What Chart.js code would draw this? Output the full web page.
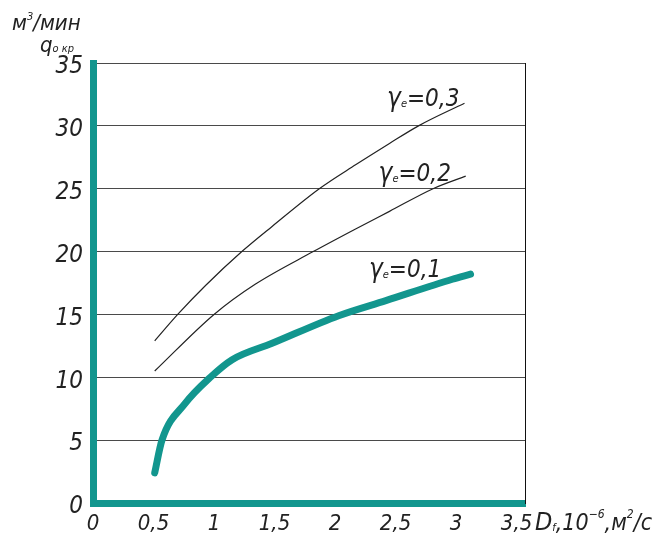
<!DOCTYPE html>
<html>
<head>
<meta charset="utf-8">
<script src="https://cdn.jsdelivr.net/npm/chart.js@4/dist/chart.umd.min.js"></script>
<style>
  html, body { margin: 0; padding: 0; background: #fff; }
  #wrap { width: 669px; height: 542px; }
</style>
</head>
<body>
<div id="wrap"><canvas id="chart" width="669" height="542"></canvas></div>
<script>
'use strict';

// values
const xTicks = [0, 0.5, 1, 1.5, 2, 2.5, 3, 3.5];
const yTicks = [0, 5, 10, 15, 20, 25, 30, 35];

const gamma03 = [
  {x: 0.51, y: 12.9}, {x: 0.70, y: 15.0}, {x: 0.93, y: 17.3}, {x: 1.23, y: 20.0},
  {x: 1.48, y: 22.0}, {x: 1.87, y: 25.0}, {x: 2.17, y: 26.9}, {x: 2.45, y: 28.6},
  {x: 2.69, y: 30.0}, {x: 3.07, y: 31.8},
];
const gamma02 = [
  {x: 0.51, y: 10.5}, {x: 1.00, y: 15.0}, {x: 1.34, y: 17.4}, {x: 1.82, y: 20.0},
  {x: 2.17, y: 21.8}, {x: 2.45, y: 23.2}, {x: 2.81, y: 25.0}, {x: 3.08, y: 26.0},
];
const gamma01 = [
  {x: 0.51, y: 2.4}, {x: 0.57, y: 5.0}, {x: 0.76, y: 7.9}, {x: 0.97, y: 10.0},
  {x: 1.15, y: 11.4}, {x: 1.48, y: 12.7}, {x: 2.03, y: 14.9}, {x: 2.42, y: 16.1},
  {x: 2.97, y: 17.8}, {x: 3.12, y: 18.2},
];

const teal = 'rgb(18,150,142)';
const ink = '#222';
const family = '"Liberation Sans Narrow", "DejaVu Sans Condensed", sans-serif';

function font(size) {
  return 'italic ' + size + 'px ' + family;
}

// draw a sequence of [text, size, dy] pieces side by side
function drawRuns(ctx, x, y, runs) {
  let cx = x;
  runs.forEach(function (r) {
    ctx.font = font(r[1]);
    ctx.fillText(r[0], cx, y + (r[2] || 0));
    cx += ctx.measureText(r[0]).width;
  });
}

const textPlugin = {
  id: 'texts',
  afterDraw(chart) {
    const ctx = chart.ctx;
    const sx = chart.scales.x;
    const sy = chart.scales.y;
    ctx.save();
    ctx.fillStyle = ink;
    ctx.textBaseline = 'alphabetic';
    ctx.textAlign = 'left';

    // curve labels
    drawRuns(ctx, sx.getPixelForValue(2.43), sy.getPixelForValue(31.6),
      [['γ', 26], ['e', 11, 1], ['=0,3', 24]]);
    drawRuns(ctx, sx.getPixelForValue(2.36), sy.getPixelForValue(25.6),
      [['γ', 26], ['e', 11, 1], ['=0,2', 24]]);
    drawRuns(ctx, sx.getPixelForValue(2.28), sy.getPixelForValue(18.0),
      [['γ', 26], ['e', 11, 1], ['=0,1', 24]]);

    // y title
    drawRuns(ctx, 12, 30, [['м', 22], ['3', 11, -10], ['/мин', 22]]);
    drawRuns(ctx, 40, 52, [['q', 22], ['о кр', 11, 0]]);

    // x title
    drawRuns(ctx, 535, 530, [['D', 25], ['f', 11, 1], [',10', 23], ['−6', 12, -12],
      [',м', 23], ['2', 12, -12], ['/с', 23]]);
    ctx.restore();
  },
};

function setTicks(values) {
  return function (scale) {
    scale.ticks = values.map(function (v) { return {value: v}; });
  };
}

function commaLabel(value) {
  return String(value).replace('.', ',');
}

new Chart(document.getElementById('chart'), {
  type:    'line',
  data:    {
    datasets: [
      {label: 'γe=0,3', data: gamma03, borderColor: ink, borderWidth: 1.2},
      {label: 'γe=0,2', data: gamma02, borderColor: ink, borderWidth: 1.2},
      {label: 'γe=0,1', data: gamma01, borderColor: teal, borderWidth: 7, borderCapStyle: 'round'},
    ],
  },
  options: {
    responsive:  false,
    animation:   false,
    layout:      {padding: {top: 63, left: 0, right: 0, bottom: 0}},
    elements:    {
      point: {radius: 0},
      line:  {cubicInterpolationMode: 'monotone', fill: false},
    },
    plugins:     {
      legend:  {display: false},
      tooltip: {enabled: false},
    },
    scales:      {
      x:  {
        type:            'linear',
        min:             0,
        max:             3.57,
        afterBuildTicks: setTicks(xTicks),
        afterFit:        function (s) { s.height = 39; },
        grid:            {display: false, drawTicks: false},
        border:          {display: true, color: teal, width: 7},
        ticks:           {
          color:       ink,
          padding:     8,
          font:        {family: family, size: 22, style: 'italic'},
          callback:    commaLabel,
          maxRotation: 0,
        },
      },
      y:  {
        type:            'linear',
        min:             0,
        max:             35,
        afterBuildTicks: setTicks(yTicks),
        afterFit:        function (s) { s.width = 93; },
        grid:            {color: '#4a4a4a', lineWidth: 1, drawTicks: false},
        border:          {display: true, color: teal, width: 7},
        ticks:           {
          color:       ink,
          padding:     10,
          labelOffset: 4,
          font:        {family: family, size: 24, style: 'italic'},
        },
      },
      y2: {
        type:     'linear',
        position: 'right',
        min:      0,
        max:      35,
        afterFit: function (s) { s.width = 144; },
        grid:     {display: false, drawTicks: false},
        border:   {display: true, color: '#111', width: 1},
        ticks:    {display: false},
      },
    },
  },
  plugins: [textPlugin],
});
</script>
</body>
</html>
